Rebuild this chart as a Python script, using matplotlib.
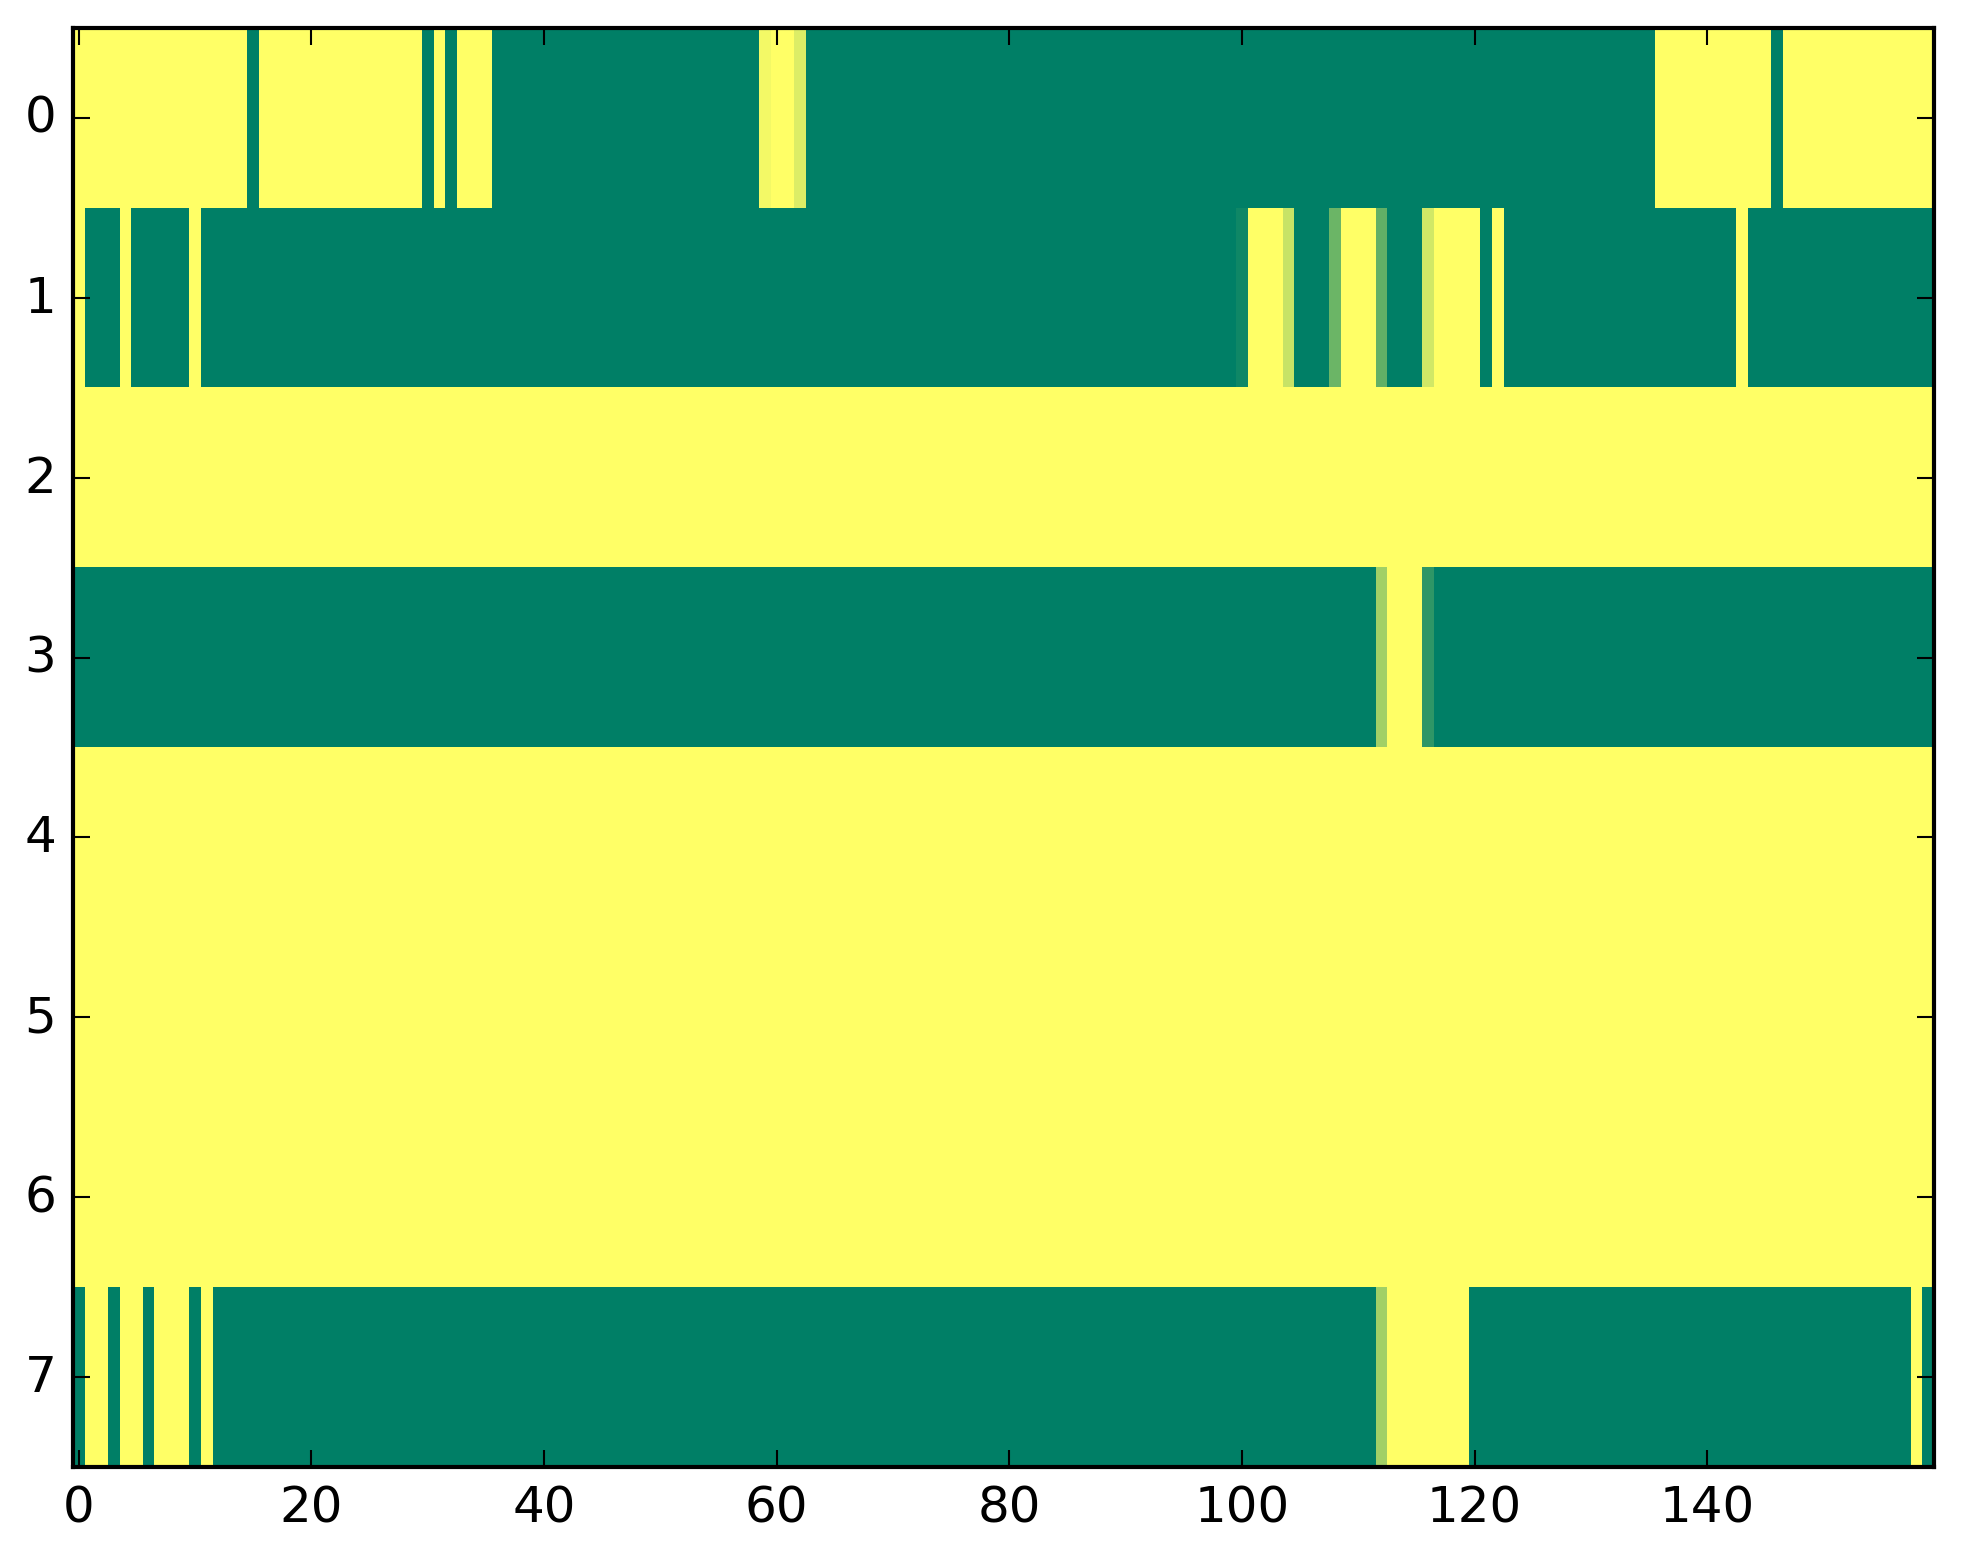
import numpy as np
import matplotlib
matplotlib.use('Agg')
import matplotlib.pyplot as plt

plt.style.use('classic')

n_cols = 160
# each row: (first column, last column, value) runs
row0 = [(0, 14, 1), (15, 15, 0), (16, 29, 1), (30, 30, 0), (31, 31, 1), (32, 32, 0),
        (33, 35, 1), (36, 58, 0), (59, 59, 0.95), (60, 61, 1), (62, 62, 0.86),
        (63, 135, 0), (136, 145, 1), (146, 146, 0), (147, 159, 1)]
row1 = [(0, 0, 1), (1, 3, 0), (4, 4, 1), (5, 9, 0), (10, 10, 1), (11, 99, 0),
        (100, 100, 0.06), (101, 103, 1), (104, 104, 0.78), (105, 107, 0),
        (108, 108, 0.42), (109, 111, 1), (112, 112, 0.38), (113, 115, 0),
        (116, 116, 0.82), (117, 120, 1), (121, 121, 0), (122, 122, 1),
        (123, 142, 0), (143, 143, 1), (144, 159, 0)]
row2 = [(0, 159, 1)]
row3 = [(0, 111, 0), (112, 112, 0.63), (113, 115, 1), (116, 116, 0.18), (117, 159, 0)]
row4 = [(0, 159, 1)]
row5 = [(0, 159, 1)]
row6 = [(0, 159, 1)]
row7 = [(0, 0, 0), (1, 2, 1), (3, 3, 0), (4, 5, 1), (6, 6, 0), (7, 9, 1),
        (10, 10, 0), (11, 11, 1), (12, 111, 0), (112, 112, 0.63), (113, 119, 1),
        (120, 157, 0), (158, 158, 1), (159, 159, 0)]
rows = [row0, row1, row2, row3, row4, row5, row6, row7]

data = np.zeros((len(rows), n_cols))
for i, runs in enumerate(rows):
    for a, b, v in runs:
        data[i, a:b + 1] = v

W, H = 1963, 1564
fig = plt.figure(figsize=(W / 300, H / 300), dpi=300, facecolor='white')
ax = fig.add_axes([73 / W, (H - 1468) / H, 1861 / W, 1439 / H])
ax.imshow(data, cmap='summer', aspect='auto', interpolation='nearest', vmin=0, vmax=1)
ax.set_xticks(np.arange(0, 141, 20))
ax.set_yticks(np.arange(0, 8))

fig.savefig('out.png', dpi=300, facecolor='white')
